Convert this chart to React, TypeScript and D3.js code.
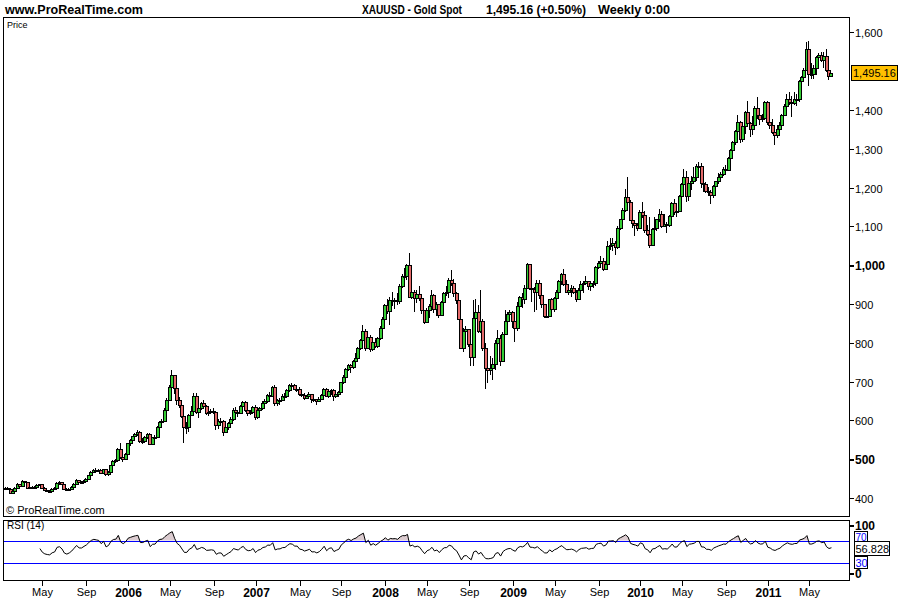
import React from "react";
import * as d3 from "d3";

// ---------- data (weekly XAUUSD, week starting Mon 17 Jan 2005) ----------
const START_DATE = new Date(2005, 0, 17);
const OPEN_FIRST = 424;

const CLOSE: number[] = [
  // 2005
  427,423,414,418,427,436,432,444,440,427, 428,426,428,434,436,426,421,419,418,423,
  425,438,440,435,424,421,424,429,437,446, 440,440,445,450,459,468,473,472,471,465,
  474,462,467,485,495,497,525,506,501,513,
  // 2006
  541,550,559,566,571,547,547,557,564,540, 556,557,582,596,599,627,653,686,717,683,
  653,640,612,582,584,613,625,664,622,631, 645,638,620,622,625,621,589,599,599,571,
  582,593,604,628,622,618,637,647,628,620, 622,635,
  // 2007
  609,626,631,646,650,665,664,686,645,652, 653,662,663,678,692,690,681,681,667,665,
  658,662,667,655,656,651,656,666,681,663, 675,678,662,668,673,698,711,733,743,738,
  753,762,786,806,830,786,815,784,803,792, 812,839,860,
  // 2008
  897,881,910,908,911,907,947,973,972,1001, 918,931,915,925,915,884,853,884,896,924,
  888,899,871,904,928,931,961,955,927,911, 862,787,830,835,798,764,863,880,830,855,
  787,735,730,735,745,800,813,753,823,855, 873,878,
  // 2009
  855,838,896,919,914,942,1002,942,939,930, 954,923,899,870,870,912,887,915,930,958,
  978,951,932,935,940,930,912,937,951,954, 958,946,953,955,996,1006,1010,991,1003,1050,
  1052,1056,1046,1095,1118,1142,1175,1162,1117,1109, 1104,1096,
  // 2010
  1137,1130,1090,1081,1052,1093,1097,1118,1133,1102, 1107,1104,1126,1161,1136,1139,1179,1209,1227,1177,
  1212,1218,1228,1256,1256,1211,1210,1190,1189,1181, 1204,1216,1227,1236,1247,1246,1275,1296,1318,1345,
  1369,1326,1358,1394,1367,1351,1362,1406,1386,1377, 1380,1421,
  // 2011
  1369,1360,1343,1336,1350,1361,1388,1410,1429,1421, 1418,1428,1429,1475,1486,1504,1556,1492,1493,1509,
  1536,1542,1529,1539,1502,1487,1495.16,
];

const HIGH: number[] = [
  429,428,425,421,429,439,437,446,445,441, 431,430,431,436,437,436,428,423,421,425,
  428,441,443,441,436,426,427,431,438,448, 447,443,447,452,460,470,474,477,475,474,
  476,475,469,486,497,500,528,541,509,517,
  543,553,561,568,574,572,554,560,567,567, 558,562,585,598,603,631,657,690,730,716,
  690,660,642,615,595,617,636,670,671,634, 648,652,640,630,629,632,624,604,605,602,
  586,596,608,631,634,626,640,650,649,631, 626,638,
  640,630,635,651,655,668,672,689,691,656, 658,667,670,681,694,696,693,688,686,674,
  670,666,672,668,663,656,659,668,684,684, 678,680,680,672,675,700,716,735,746,745,
  756,773,790,809,845,835,828,820,807,812, 816,842,867,
  901,914,918,932,915,929,952,977,992,1003, 1032,949,935,937,945,918,885,889,899,935,
  926,904,895,907,931,946,966,988,965,930, 914,869,838,842,834,805,910,913,897,935,
  860,800,775,765,760,807,832,820,828,885, 880,885,
  881,860,905,921,929,950,1006,1000,951,944, 963,962,935,896,897,914,915,919,936,962,
  980,990,962,945,948,946,936,941,959,960, 971,960,956,959,998,1011,1024,1019,1009,1063,
  1070,1070,1063,1101,1120,1148,1195,1227,1168,1140, 1115,1108,
  1142,1162,1140,1103,1123,1097,1125,1120,1145,1139, 1131,1110,1130,1164,1170,1151,1182,1211,1249,1243,
  1216,1230,1253,1261,1266,1262,1214,1215,1202,1194, 1207,1218,1237,1240,1254,1259,1278,1300,1320,1348,
  1387,1371,1361,1398,1424,1368,1385,1410,1432,1393, 1389,1424,
  1424,1390,1376,1351,1360,1370,1390,1414,1440,1445, 1436,1447,1441,1477,1488,1509,1575,1577,1521,1515,
  1538,1547,1550,1548,1556,1507,1497,
];

const LOW: number[] = [
  420,420,411,410,417,426,428,431,437,425, 424,423,425,427,430,424,420,417,414,416,
  421,424,433,433,422,418,419,422,428,435, 438,436,437,443,448,457,464,465,467,463,
  463,457,456,466,483,491,496,500,494,499,
  515,535,547,553,560,542,538,545,552,536, 540,551,555,578,588,597,622,650,683,667,
  640,632,605,543,565,571,611,623,617,605, 626,630,613,611,616,617,576,579,590,560,
  569,575,586,598,612,610,616,633,622,611, 614,619,
  602,603,620,627,640,646,656,662,636,637, 640,650,658,660,674,682,678,674,662,660,
  652,654,656,646,648,640,648,652,663,659, 657,665,651,658,660,671,694,711,727,723,
  733,752,760,781,805,778,788,776,780,786, 786,808,834,
  858,873,846,895,888,898,899,940,958,962, 915,912,880,903,908,875,849,852,863,891,
  877,869,863,868,887,920,915,945,918,900, 858,784,775,812,790,741,740,862,826,825,
  780,681,697,716,704,730,790,740,755,820, 835,860,
  837,802,830,880,889,901,942,935,904,880, 884,913,889,865,864,866,880,880,910,920,
  948,946,928,922,918,925,905,910,930,928, 949,936,934,940,945,989,995,984,988,1000,
  1040,1036,1027,1042,1090,1112,1137,1160,1116,1097, 1075,1088,
  1093,1121,1082,1076,1045,1050,1090,1087,1112,1097, 1100,1083,1099,1124,1130,1123,1139,1160,1200,1162,
  1166,1193,1214,1218,1227,1200,1188,1185,1177,1157, 1173,1192,1210,1215,1229,1240,1242,1268,1286,1309,
  1331,1315,1318,1338,1365,1330,1336,1360,1377,1360, 1370,1376,
  1360,1350,1337,1309,1327,1336,1356,1386,1404,1413, 1381,1413,1409,1420,1453,1482,1504,1462,1479,1480,
  1490,1526,1524,1509,1497,1478,1485,
];

const PRICE_TICKS = [400, 500, 600, 700, 800, 900, 1000, 1100, 1200, 1300, 1400, 1600];
const BOLD_PRICE_TICKS = [500, 1000];
const MONTH_NAMES: Record<number, string> = { 4: "May", 8: "Sep" };
const RSI_PERIOD = 14;
const RSI_LEVELS = [70, 30];
const LAST_PRICE_LABEL = "1,495.16";
const LAST_PRICE = 1495.16;
const LAST_RSI_LABEL = "56.828";
const LAST_RSI = 56.828;
const HEADER_LEFT = "www.ProRealTime.com";
const TITLE_PARTS = ["XAUUSD - Gold Spot", "1,495.16 (+0.50%)", "Weekly 0:00"];

function computeRSI(closes: number[], n: number): (number | null)[] {
  const out: (number | null)[] = closes.map(() => null);
  let g = 0, l = 0;
  for (let i = 1; i <= n; i++) {
    const d = closes[i] - closes[i - 1];
    if (d > 0) g += d; else l -= d;
  }
  let ag = g / n, al = l / n;
  out[n] = al === 0 ? 100 : 100 - 100 / (1 + ag / al);
  for (let i = n + 1; i < closes.length; i++) {
    const d = closes[i] - closes[i - 1];
    ag = (ag * (n - 1) + Math.max(d, 0)) / n;
    al = (al * (n - 1) + Math.max(-d, 0)) / n;
    out[i] = al === 0 ? 100 : 100 - 100 / (1 + ag / al);
  }
  return out;
}

const FONT = "'Liberation Sans', Arial, sans-serif";
const GREEN = "#33cc33";
const RED = "#e46a6a";
const BLUE = "#0000ff";

export default function App() {
  const N = CLOSE.length;
  const left = 3.5, right = 849.5, mainTop = 17.5, mainBottom = 516.5;
  const rsiTop = 520.5, rsiBottom = 580.5;

  const x = d3.scaleLinear().domain([0, N - 1]).range([5.6, 5.6 + (N - 1) * 2.4506]);
  const y = d3.scaleLinear().domain([400, 1600]).range([498, 32.3]);
  const yr = d3.scaleLinear().domain([0, 100]).range([579.7, 523.7]);

  const dates = CLOSE.map((_, i) => d3.timeDay.offset(START_DATE, 7 * i));
  const xTicks: { i: number; label: string; bold: boolean }[] = [];
  for (let i = 1; i < N; i++) {
    const m = dates[i].getMonth();
    if (m !== dates[i - 1].getMonth()) {
      if (m === 0) xTicks.push({ i, label: String(dates[i].getFullYear()), bold: true });
      else if (MONTH_NAMES[m]) xTicks.push({ i, label: MONTH_NAMES[m], bold: false });
    }
  }

  const rsi = computeRSI(CLOSE, RSI_PERIOD);
  const rsiPts = rsi.map((v, i) => ({ i, v })).filter((d) => d.v !== null) as { i: number; v: number }[];
  const rsiLine = d3.line<{ i: number; v: number }>().x((d) => x(d.i)).y((d) => yr(d.v))(rsiPts) || "";
  const rsiArea =
    d3.area<{ i: number; v: number }>().x((d) => x(d.i)).y0(yr(70)).y1((d) => yr(d.v))(rsiPts) || "";

  const fmt = d3.format(",");

  const candles = CLOSE.map((c, i) => {
    const o = i === 0 ? OPEN_FIRST : CLOSE[i - 1];
    const h = Math.max(HIGH[i], o, c);
    const l = Math.min(LOW[i], o, c);
    const cx = Math.round(x(i));
    const up = c >= o;
    const yTop = Math.round(y(Math.max(o, c)));
    const yBot = Math.round(y(Math.min(o, c)));
    const bh = Math.max(1, yBot - yTop);
    return (
      <g key={i}>
        <line x1={cx - 0.5} x2={cx - 0.5} y1={Math.round(y(h))} y2={Math.round(y(l))} stroke="#000" strokeWidth={1} />
        <rect x={cx - 1.5} y={yTop + 0.5} width={3} height={bh} fill={up ? GREEN : RED} stroke="#000" strokeWidth={1} />
      </g>
    );
  });

  const tagY = y(LAST_PRICE);
  const rsiTagY = yr(LAST_RSI);

  return (
    <svg
      width={900}
      height={600}
      style={{ position: "absolute", left: 0, top: 0, background: "#fff", fontFamily: FONT }}
      shapeRendering="crispEdges"
    >
      <rect x={0} y={0} width={900} height={600} fill="#fff" />
      <defs>
        <clipPath id="mainClip">
          <rect x={left + 0.5} y={mainTop + 0.5} width={right - left - 1} height={mainBottom - mainTop - 1} />
        </clipPath>
        <clipPath id="obClip">
          <rect x={left + 0.5} y={rsiTop} width={right - left - 1} height={yr(70) - rsiTop} />
        </clipPath>
      </defs>

      {/* header */}
      <text x={5} y={14} fontSize={12} fontWeight="bold" textLength={138} lengthAdjust="spacingAndGlyphs">
        {HEADER_LEFT}
      </text>
      <text x={362} y={14} fontSize={12} fontWeight="bold" textLength={100} lengthAdjust="spacingAndGlyphs">
        {TITLE_PARTS[0]}
      </text>
      <text x={486} y={14} fontSize={12} fontWeight="bold" textLength={100} lengthAdjust="spacingAndGlyphs">
        {TITLE_PARTS[1]}
      </text>
      <text x={598} y={14} fontSize={12} fontWeight="bold" textLength={72} lengthAdjust="spacingAndGlyphs">
        {TITLE_PARTS[2]}
      </text>

      {/* main panel */}
      <rect x={left} y={mainTop} width={right - left} height={mainBottom - mainTop} fill="none" stroke="#000" />
      <text x={7} y={28} fontSize={9}>Price</text>
      <g clipPath="url(#mainClip)">{candles}</g>
      <text x={6} y={514} fontSize={11}>© ProRealTime.com</text>

      {/* price axis */}
      {PRICE_TICKS.map((t) => {
        const bold = BOLD_PRICE_TICKS.includes(t);
        const ty = Math.round(y(t)) + 0.5;
        return (
          <g key={t}>
            <line x1={right} x2={right + 4} y1={ty} y2={ty} stroke="#000" strokeWidth={bold ? 2 : 1} />
            <text x={855} y={ty + 4} fontSize={bold ? 12 : 11} fontWeight={bold ? "bold" : "normal"}>
              {fmt(t)}
            </text>
          </g>
        );
      })}
      <rect x={851.5} y={Math.round(tagY) - 7.5} width={46} height={15} fill="#ffc000" stroke="#000" />
      <text x={853} y={Math.round(tagY) + 4} fontSize={11}>{LAST_PRICE_LABEL}</text>

      {/* RSI panel */}
      <rect x={left} y={rsiTop} width={right - left} height={rsiBottom - rsiTop} fill="none" stroke="#000" />
      <path d={rsiArea} fill="#dcccd0" stroke="none" clipPath="url(#obClip)" />
      {RSI_LEVELS.map((lv) => (
        <line key={lv} x1={left + 0.5} x2={right - 0.5} y1={Math.round(yr(lv)) + 0.5} y2={Math.round(yr(lv)) + 0.5} stroke={BLUE} />
      ))}
      <path d={rsiLine} fill="none" stroke="#000" strokeWidth={1} shapeRendering="auto" />
      <text x={7} y={529} fontSize={10}>RSI (14)</text>

      {/* RSI axis */}
      <line x1={right} x2={right + 4} y1={525.5} y2={525.5} stroke="#000" strokeWidth={2} />
      <text x={855} y={530} fontSize={12} fontWeight="bold">100</text>
      <line x1={right} x2={right + 4} y1={573.5} y2={573.5} stroke="#000" strokeWidth={2} />
      <text x={855} y={578} fontSize={12} fontWeight="bold">0</text>
      <rect x={854.5} y={531.5} width={13} height={12} fill="#fff" stroke="#000" />
      <text x={855.5} y={540.5} fontSize={10} fill={BLUE}>70</text>
      <rect x={854.5} y={556.5} width={13} height={12} fill="#fff" stroke="#000" />
      <text x={855.5} y={566.5} fontSize={11} fill={BLUE}>30</text>
      <rect x={854.5} y={Math.round(rsiTagY) - 6.5} width={35} height={14} fill="#fff" stroke="#000" />
      <text x={855.5} y={Math.round(rsiTagY) + 5} fontSize={11}>{LAST_RSI_LABEL}</text>

      {/* x axis */}
      {xTicks.map((t) => {
        const tx = Math.round(x(t.i)) + 0.5;
        return (
          <g key={t.i}>
            <line x1={tx} x2={tx} y1={rsiBottom} y2={rsiBottom + 5} stroke="#000" />
            <text x={tx} y={t.bold ? 597 : 596} fontSize={t.bold ? 12 : 11} fontWeight={t.bold ? "bold" : "normal"} textAnchor="middle">
              {t.label}
            </text>
          </g>
        );
      })}
    </svg>
  );
}
